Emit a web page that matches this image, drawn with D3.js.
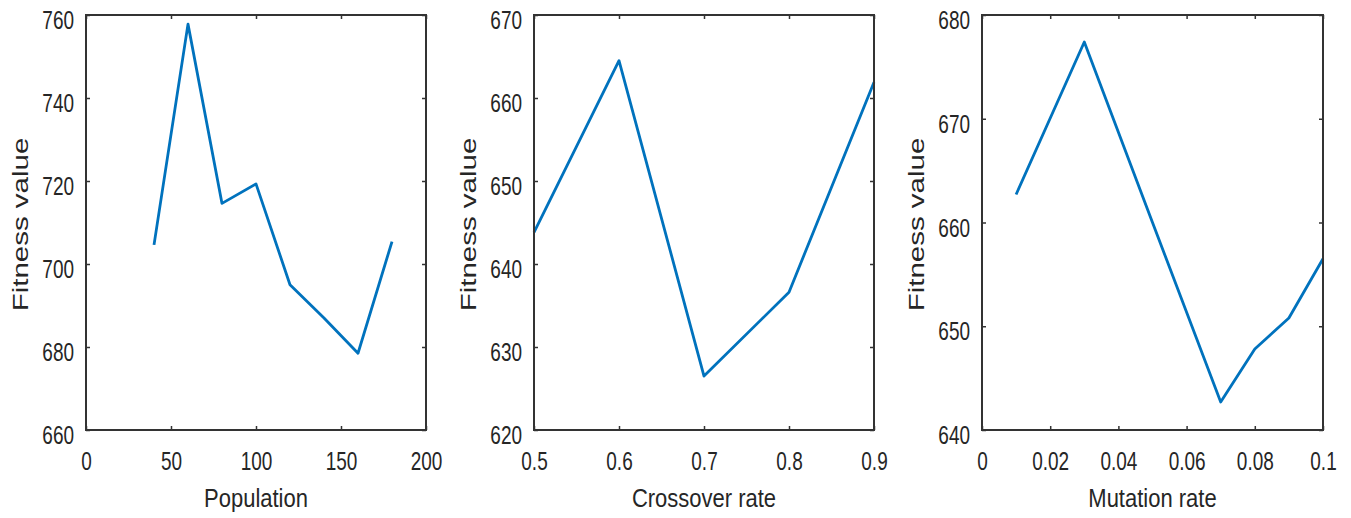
<!DOCTYPE html>
<html>
<head>
<meta charset="utf-8">
<script src="https://cdn.jsdelivr.net/npm/d3@7/dist/d3.min.js"></script>
<style>
  html, body { margin: 0; padding: 0; background: #fff; }
  svg { display: block; }
  text { font-family: "Liberation Sans", Arial, Helvetica, sans-serif; fill: #262626; }
</style>
</head>
<body>
<svg id="chart" width="1351" height="518"></svg>
<script>
// ---- data ----
const populationX = [40, 60, 80, 100, 120, 140, 160, 180];
const populationY = [704.6, 757.8, 714.6, 719.3, 695.0, 687.0, 678.5, 705.4];

const crossoverX = [0.5, 0.6, 0.7, 0.8, 0.9];
const crossoverY = [643.8, 664.5, 626.5, 636.6, 661.9];

const mutationX = [0.01, 0.03, 0.05, 0.07, 0.08, 0.09, 0.1];
const mutationY = [662.7, 677.4, 660.0, 642.7, 647.8, 650.8, 656.5];

const populationXTicks = [0, 50, 100, 150, 200];
const populationYTicks = [660, 680, 700, 720, 740, 760];
const crossoverXTicks = [0.5, 0.6, 0.7, 0.8, 0.9];
const crossoverYTicks = [620, 630, 640, 650, 660, 670];
const mutationXTicks = [0, 0.02, 0.04, 0.06, 0.08, 0.1];
const mutationYTicks = [640, 650, 660, 670, 680];

const xTitles = ["Population", "Crossover rate", "Mutation rate"];
const yTitle = "Fitness value";

// ---- layout ----
const panels = [
  { left: 86,  right: 426,  xs: populationX, ys: populationY, xDom: [0, 200],   yDom: [660, 760], xt: populationXTicks, yt: populationYTicks, title: xTitles[0] },
  { left: 534, right: 874,  xs: crossoverX,  ys: crossoverY,  xDom: [0.5, 0.9], yDom: [620, 670], xt: crossoverXTicks,  yt: crossoverYTicks,  title: xTitles[1] },
  { left: 982, right: 1323, xs: mutationX,   ys: mutationY,   xDom: [0, 0.1],   yDom: [640, 680], xt: mutationXTicks,   yt: mutationYTicks,   title: xTitles[2] }
];
const plotTop = 15, plotBottom = 430;
const textColor = "#262626";
const frameColor = "#333";

const svg = d3.select("#chart");
svg.append("rect").attr("width", 1351).attr("height", 518).attr("fill", "#fff");

panels.forEach(p => {
  const x = d3.scaleLinear().domain(p.xDom).range([p.left, p.right]);
  const y = d3.scaleLinear().domain(p.yDom).range([plotBottom, plotTop]);
  const g = svg.append("g");

  // data line
  const line = d3.line().x(d => x(d[0])).y(d => y(d[1]));
  g.append("path")
    .datum(p.xs.map((v, i) => [v, p.ys[i]]))
    .attr("d", line)
    .attr("fill", "none")
    .attr("stroke", "#0072BD")
    .attr("stroke-width", 2.8)
    .attr("stroke-linejoin", "round")
    .attr("stroke-linecap", "butt");

  const fmt = d => String(d);

  // bottom axis
  const gb = g.append("g").attr("transform", `translate(0,${plotBottom})`)
    .call(d3.axisBottom(x).tickValues(p.xt).tickFormat(fmt).tickSize(-4).tickSizeOuter(0));
  gb.selectAll("text")
    .attr("y", null).attr("dy", null)
    .attr("transform", "translate(0,39.5) scale(0.73,1)")
    .attr("text-anchor", "middle")
    .style("font-size", "26px").attr("fill", textColor);

  // top axis (ticks only)
  g.append("g").attr("transform", `translate(0,${plotTop})`)
    .call(d3.axisTop(x).tickValues(p.xt).tickFormat("").tickSize(-4).tickSizeOuter(0));

  // left axis
  const gl = g.append("g").attr("transform", `translate(${p.left},0)`)
    .call(d3.axisLeft(y).tickValues(p.yt).tickFormat(fmt).tickSize(-4).tickSizeOuter(0));
  gl.selectAll("text")
    .attr("x", null).attr("dy", null)
    .attr("transform", "translate(-12,13.5) scale(0.73,1)")
    .attr("text-anchor", "end")
    .style("font-size", "26px").attr("fill", textColor);

  // right axis (ticks only)
  g.append("g").attr("transform", `translate(${p.right},0)`)
    .call(d3.axisRight(y).tickValues(p.yt).tickFormat("").tickSize(-4).tickSizeOuter(0));

  g.selectAll(".domain").remove();
  g.selectAll(".tick line").attr("stroke", frameColor).attr("stroke-width", 1.5);

  // frame
  g.append("rect")
    .attr("x", p.left).attr("y", plotTop)
    .attr("width", p.right - p.left).attr("height", plotBottom - plotTop)
    .attr("fill", "none").attr("stroke", frameColor).attr("stroke-width", 2);

  // x title
  g.append("text")
    .attr("transform", `translate(${(p.left + p.right) / 2},507) scale(0.83,1)`)
    .attr("text-anchor", "middle")
    .style("font-size", "26.5px")
    .attr("fill", textColor)
    .text(p.title);

  // y title
  g.append("text")
    .attr("transform", `translate(${p.left - 58},${(plotTop + plotBottom) / 2 + 2}) rotate(-90) scale(1,0.75)`)
    .attr("text-anchor", "middle")
    .style("font-size", "29.5px")
    .attr("fill", textColor)
    .text(yTitle);
});
</script>
</body>
</html>
